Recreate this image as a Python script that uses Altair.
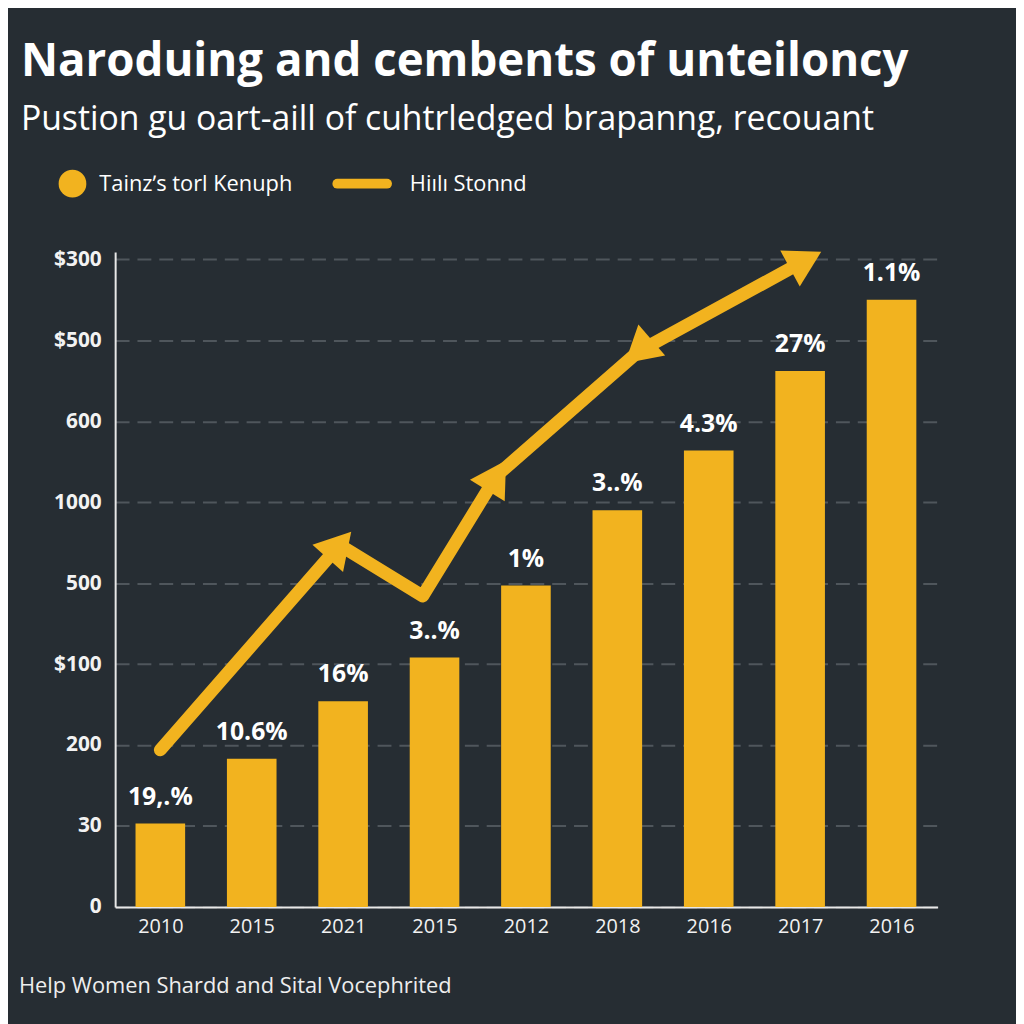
import math
import altair as alt
import pandas as pd

# ---- data ----
YEARS = ["2010", "2015", "2021", "2015", "2012", "2018", "2016", "2017", "2016"]
BAR_VALUES = [1.03, 1.83, 2.54, 3.08, 3.97, 4.90, 5.64, 6.62, 7.50]
BAR_LABELS = ["19,.%", "10.6%", "16%", "3..%", "1%", "3..%", "4.3%", "27%", "1.1%"]
Y_TICK_LABELS = ["0", "30", "200", "$100", "500", "1000", "600", "$500", "$300"]
TREND_X = [0.0, 1.96, 2.87, 3.68, 5.23, 7.06]
TREND_Y = [1.94, 4.47, 3.84, 5.33, 6.86, 7.99]
ARROW_AT = [1, 3, 4, 5]
ARROW_BACK = [False, False, True, False]

TITLE = "Naroduing and cembents of unteiloncy"
SUBTITLE = "Pustion gu oart-aill of cuhtrledged brapanng, recouant"
LEGEND_BAR = "Tainz\u02bcs torl Kenuph"
LEGEND_LINE = "Hi\u0131l\u0131 Stonnd"
FOOTER = "Help Women Shardd and Sital Vocephrited"

# ---- style ----
BG = "#262d33"
YELLOW = "#f2b31f"
W, H = 829, 660
XDOM = [-0.44, 8.45]
YDOM = [0, 8.09]
FONT = "Open Sans"

bars = pd.DataFrame({
    "idx": list(range(len(YEARS))),
    "year": YEARS,
    "value": BAR_VALUES,
    "label": BAR_LABELS,
})
trend = pd.DataFrame({"tx": TREND_X, "ty": TREND_Y, "o": list(range(len(TREND_X)))})

pxx = W / (XDOM[1] - XDOM[0])
pxy = H / (YDOM[1] - YDOM[0])
arrow_rows = []
for i, back in zip(ARROW_AT, ARROW_BACK):
    j = i - 1
    if back:
        dx = (TREND_X[j] - TREND_X[i]) * pxx
        dy = (TREND_Y[j] - TREND_Y[i]) * pxy
    else:
        dx = (TREND_X[i] - TREND_X[j]) * pxx
        dy = (TREND_Y[i] - TREND_Y[j]) * pxy
    ang = math.degrees(math.atan2(dx, dy)) % 360
    arrow_rows.append({"ax": TREND_X[i], "ay": TREND_Y[i], "angle": ang})
arrows = pd.DataFrame(arrow_rows)

xscale = alt.Scale(domain=XDOM, nice=False, zero=False)
yscale = alt.Scale(domain=YDOM, nice=False)

year_expr = "[" + ",".join("'%s'" % y for y in YEARS) + "][datum.value]"
ytick_expr = "[" + ",".join("'%s'" % y for y in Y_TICK_LABELS) + "][datum.value]"

x_axis = alt.Axis(values=list(range(len(YEARS))), labelExpr=year_expr, title=None,
                  grid=False, ticks=False, domain=True, domainColor="#e8e8e8",
                  domainWidth=2, labelColor="#f2f2f2", labelFont=FONT,
                  labelFontSize=20, labelPadding=10)
y_axis = alt.Axis(values=list(range(9)), labelExpr=ytick_expr, title=None,
                  grid=True, gridColor="#4f565c", gridDash=[14, 8], gridWidth=2,
                  ticks=False, domain=True, domainColor="#e8e8e8", domainWidth=2,
                  labelColor="#f2f2f2", labelFont=FONT, labelFontSize=21,
                  labelFontWeight="bold", labelPadding=14)

bar_layer = alt.Chart(bars).mark_bar(color=YELLOW, width=50).encode(
    x=alt.X("idx:Q", scale=xscale, axis=x_axis),
    y=alt.Y("value:Q", scale=yscale, axis=y_axis),
)

label_layer = alt.Chart(bars).mark_text(
    color="white", font=FONT, fontWeight="bold", fontSize=25,
    baseline="middle", dy=-27
).encode(
    x=alt.X("idx:Q", scale=xscale),
    y=alt.Y("value:Q", scale=yscale),
    text="label:N",
)

line_layer = alt.Chart(trend).mark_line(
    color=YELLOW, strokeWidth=13, strokeCap="round", strokeJoin="round"
).encode(
    x=alt.X("tx:Q", scale=xscale),
    y=alt.Y("ty:Q", scale=yscale),
    order="o:Q",
)

arrow_layer = alt.Chart(arrows).mark_point(
    shape="triangle-up", filled=True, color=YELLOW, opacity=1, size=1700
).encode(
    x=alt.X("ax:Q", scale=xscale),
    y=alt.Y("ay:Q", scale=yscale),
    angle=alt.Angle("angle:Q", scale=None),
)


def text_at(txt, x, y, size, weight="normal", color="white"):
    return alt.Chart(pd.DataFrame({"t": [txt]})).mark_text(
        align="left", baseline="middle", font=FONT, fontSize=size,
        fontWeight=weight, color=color
    ).encode(x=alt.value(x), y=alt.value(y), text="t:N")


title_layer = text_at(TITLE, -95, -191, 46, "bold")
subtitle_layer = text_at(SUBTITLE, -95, -133, 34)
leg_bar_text = text_at(LEGEND_BAR, -16, -69, 22)
leg_line_text = text_at(LEGEND_LINE, 297, -69, 22)
footer_layer = text_at(FOOTER, -97, 740, 22, color="#eeeeee")

leg_dot = alt.Chart(pd.DataFrame({"t": [LEGEND_BAR]})).mark_point(
    shape="circle", filled=True, color=YELLOW, opacity=1, size=780
).encode(x=alt.value(-43), y=alt.value(-69))

leg_line = alt.Chart(pd.DataFrame({"t": [LEGEND_LINE]})).mark_rule(
    color=YELLOW, strokeWidth=10, strokeCap="round"
).encode(x=alt.value(224), x2=alt.value(274), y=alt.value(-69))

chart = alt.layer(
    bar_layer, line_layer, arrow_layer, label_layer,
    title_layer, subtitle_layer, leg_dot, leg_bar_text, leg_line, leg_line_text,
    footer_layer,
).properties(
    width=W, height=H, background=BG,
    padding={"left": 108, "top": 242, "right": 79, "bottom": 114},
    autosize=alt.AutoSizeParams(type="none"),
).configure_view(stroke=None)

chart.save("out.html", embed_options={"renderer": "svg", "actions": False})
